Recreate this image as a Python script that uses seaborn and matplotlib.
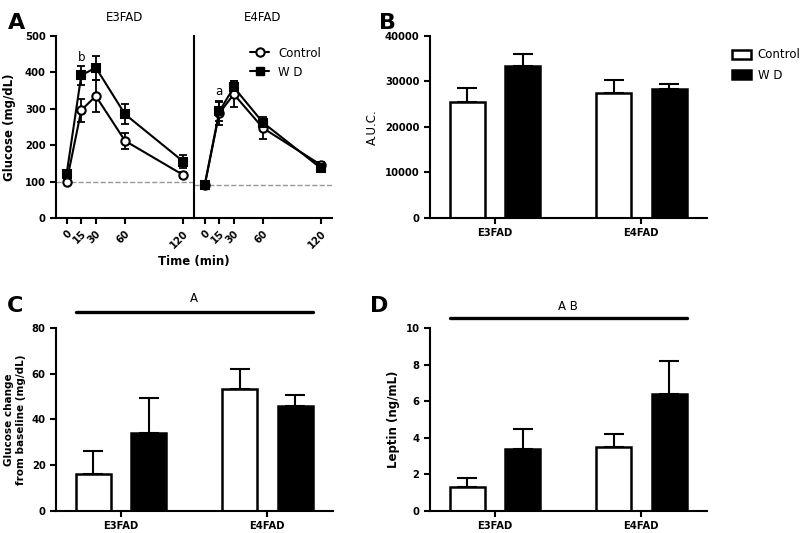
import matplotlib
matplotlib.use('Agg')
import matplotlib.pyplot as plt
import matplotlib.transforms as mtransforms
from matplotlib.patches import Patch
from matplotlib.lines import Line2D
import seaborn as sns
import pandas as pd

# ---- data ----
times = [0, 15, 30, 60, 120]
e3_control = [100, 296, 335, 212, 118]
e3_control_se = [6, 32, 45, 22, 9]
e3_wd = [122, 392, 413, 285, 155]
e3_wd_se = [10, 26, 33, 27, 17]
e4_control = [90, 288, 340, 247, 145]
e4_control_se = [5, 33, 36, 30, 9]
e4_wd = [90, 293, 359, 262, 136]
e4_wd_se = [5, 26, 17, 10, 7]
baseline_e3 = 98
baseline_e4 = 90

genotypes = ['E3FAD', 'E4FAD']
diets = ['Control', 'W D']
auc_control = [25500, 27500]
auc_control_se = [3000, 2900]
auc_wd = [33300, 28300]
auc_wd_se = [2700, 1250]
change_control = [16, 53.4]
change_control_se = [10.4, 8.8]
change_wd = [33.9, 45.8]
change_wd_se = [15.5, 5.1]
leptin_control = [1.3, 3.5]
leptin_control_se = [0.5, 0.7]
leptin_wd = [3.4, 6.4]
leptin_wd_se = [1.1, 1.8]

sns.set_style('ticks', rc={'axes.edgecolor': 'black', 'text.color': 'black',
                           'axes.labelcolor': 'black', 'xtick.color': 'black',
                           'ytick.color': 'black'})
plt.rcParams['font.family'] = ['DejaVu Sans']
plt.rcParams['axes.linewidth'] = 1.5
plt.rcParams['xtick.major.width'] = 1.5
plt.rcParams['ytick.major.width'] = 1.5
plt.rcParams['xtick.major.size'] = 4
plt.rcParams['ytick.major.size'] = 4

fig = plt.figure(figsize=(8, 5.33), dpi=100)
axA1 = fig.add_axes([0.07, 0.591, 0.1725, 0.3415])
axA2 = fig.add_axes([0.2425, 0.591, 0.1725, 0.3415])
axB = fig.add_axes([0.5375, 0.591, 0.3465, 0.3415])
axC = fig.add_axes([0.07, 0.0413, 0.3465, 0.3433])
axD = fig.add_axes([0.5375, 0.0413, 0.3465, 0.3433])

tick_font = dict(fontsize=7.2, fontweight='bold')
label_font = dict(fontsize=8.5, fontweight='bold')


def glucose_panel(ax, ctrl, ctrl_se, wd, wd_se, base, title, letter, letter_y):
    d = pd.DataFrame({'time': times * 2,
                      'glucose': ctrl + wd,
                      'diet': ['Control'] * len(times) + ['W D'] * len(times)})
    sns.lineplot(data=d, x='time', y='glucose', hue='diet', style='diet',
                 markers={'Control': 'o', 'W D': 's'}, dashes=False,
                 palette={'Control': 'black', 'W D': 'black'},
                 linewidth=1.5, markersize=6, legend=False, ax=ax)
    for ln, fc in zip(ax.lines, ['white', 'black']):
        ln.set_markerfacecolor(fc)
        ln.set_markeredgecolor('black')
        ln.set_markeredgewidth(1.5)
        ln.set_zorder(4)
    for vals, se in [(ctrl, ctrl_se), (wd, wd_se)]:
        ax.errorbar(times, vals, yerr=se, fmt='none', ecolor='black',
                    elinewidth=1.3, capsize=3, capthick=1.3, zorder=3)
    ax.axhline(base, color='#999999', ls='--', lw=1, zorder=1)
    ax.set_xlim(-11, 131)
    ax.set_ylim(0, 500)
    ax.set_xticks(times)
    ax.set_xticklabels([str(t) for t in times], rotation=45, ha='right',
                       rotation_mode='anchor', **tick_font)
    ax.set_xlabel('')
    ax.set_ylabel('')
    ax.set_title(title, fontsize=8.5, pad=11)
    ax.text(15, letter_y, letter, ha='center', va='bottom', fontsize=8.5)
    sns.despine(ax=ax)


glucose_panel(axA1, e3_control, e3_control_se, e3_wd, e3_wd_se, baseline_e3,
              'E3FAD', 'b', 422)
glucose_panel(axA2, e4_control, e4_control_se, e4_wd, e4_wd_se, baseline_e4,
              'E4FAD', 'a', 330)
axA1.set_yticks(range(0, 501, 100))
axA1.set_yticklabels([str(v) for v in range(0, 501, 100)], **tick_font)
axA1.set_ylabel('Glucose (mg/dL)', labelpad=6, **label_font)
axA2.tick_params(axis='y', left=False, labelleft=False)
fig.text(0.2425, 1 - 262 / 533, 'Time (min)', ha='center', va='center', **label_font)
axA2.legend(handles=[
    Line2D([], [], color='black', lw=1.5, marker='o', mfc='white', mec='black', mew=1.5, ms=6),
    Line2D([], [], color='black', lw=1.5, marker='s', mfc='black', mec='black', ms=6)],
    labels=diets, loc='upper left', bbox_to_anchor=(0.33, 1.0), frameon=False,
    fontsize=8.5, handlelength=1.6, handletextpad=0.8, labelspacing=0.5)


def bar_panel(ax, ctrl, ctrl_se, wd, wd_se, ylim, step, ylabel, lab_font):
    d = pd.DataFrame({'genotype': genotypes * 2,
                      'value': ctrl + wd,
                      'diet': ['Control'] * 2 + ['W D'] * 2})
    sns.barplot(data=d, x='genotype', y='value', hue='diet', hue_order=diets,
                palette={'Control': 'white', 'W D': 'black'}, edgecolor='black',
                linewidth=1.8, width=0.76, gap=0.37, errorbar=None,
                legend=False, ax=ax)
    errs = ctrl_se + wd_se
    for p, e in zip(ax.patches, errs):
        x = p.get_x() + p.get_width() / 2
        h = p.get_height()
        ax.errorbar([x], [h], yerr=[[0], [e]], fmt='none', ecolor='black',
                    elinewidth=1.5, capsize=7, capthick=1.5, zorder=1)
    ax.set_xlim(-0.445, 1.45)
    ax.set_ylim(0, ylim)
    ticks = list(range(0, int(ylim) + 1, step))
    ax.set_yticks(ticks)
    ax.set_yticklabels([str(t) for t in ticks], **tick_font)
    ax.set_xticks([0, 1])
    ax.set_xticklabels(genotypes, **tick_font)
    ax.set_xlabel('')
    ax.set_ylabel(ylabel, **lab_font)
    sns.despine(ax=ax)


bar_panel(axB, auc_control, auc_control_se, auc_wd, auc_wd_se, 40000, 10000,
          'A.U.C.', dict(fontsize=8.5))
axB.legend(handles=[Patch(facecolor='white', edgecolor='black', lw=1.8),
                    Patch(facecolor='black', edgecolor='black', lw=1.8)],
           labels=diets, loc='upper left', bbox_to_anchor=(1.05, 0.99),
           frameon=False, fontsize=8.5, handlelength=1.6, handleheight=0.8,
           handletextpad=0.6, labelspacing=0.6)

bar_panel(axC, change_control, change_control_se, change_wd, change_wd_se, 80, 20,
          'Glucose change\nfrom baseline (mg/dL)', dict(fontsize=7.5, fontweight='bold'))
bar_panel(axD, leptin_control, leptin_control_se, leptin_wd, leptin_wd_se, 10, 2,
          'Leptin (ng/mL)', label_font)


def sig_line(ax, y_line, y_text, label):
    tr = mtransforms.blended_transform_factory(ax.transData, ax.transAxes)
    ax.plot([-0.31, 1.31], [y_line, y_line], color='black', lw=2.4,
            transform=tr, clip_on=False)
    ax.text(0.5, y_text, label, ha='center', va='center', fontsize=8.5, transform=tr)


sig_line(axC, 1.087, 1.16, 'A')
sig_line(axD, 1.055, 1.12, 'A B')

for x, y, s in [(0.01, 0.975, 'A'), (0.474, 0.975, 'B'),
                (0.008, 0.445, 'C'), (0.463, 0.445, 'D')]:
    fig.text(x, y, s, fontsize=16, fontweight='bold', va='top')

fig.savefig('out.png', dpi=100)
